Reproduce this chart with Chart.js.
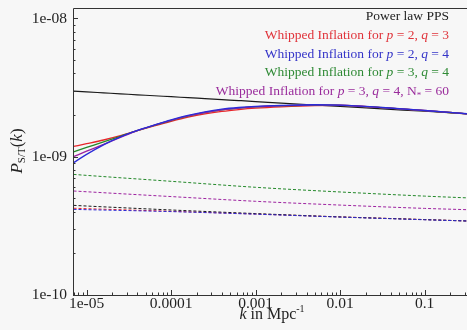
<!DOCTYPE html>
<html><head><meta charset="utf-8">
<script src="https://cdn.jsdelivr.net/npm/chart.js@4.4.0/dist/chart.umd.min.js"></script>
<style>html,body{margin:0;padding:0;background:#f7f7f7;}canvas{display:block;}</style>
</head><body>
<canvas id="c" width="467" height="330"></canvas>
<script>
// ---- data ----
const kSolid = [7e-6,1e-5,1.585e-5,2.512e-5,3.981e-5,6.31e-5,1e-4,1.585e-4,2.512e-4,3.981e-4,6.31e-4,1e-3,2e-3,5e-3,1e-2,3.16e-2,0.1,0.316];
const powerLawPPS = [2.979e-9,2.944e-9,2.897e-9,2.851e-9,2.805e-9,2.761e-9,2.716e-9,2.673e-9,2.630e-9,2.588e-9,2.547e-9,2.506e-9,2.443e-9,2.366e-9,2.312e-9,2.218e-9,2.133e-9,2.046e-9];
const whip23 = [1.186e-9,1.242e-9,1.321e-9,1.419e-9,1.542e-9,1.671e-9,1.803e-9,1.932e-9,2.042e-9,2.128e-9,2.193e-9,2.244e-9,2.296e-9,2.344e-9,2.352e-9,2.265e-9,2.158e-9,2.042e-9];
const whip24 = [0.906e-9,1.040e-9,1.219e-9,1.390e-9,1.549e-9,1.694e-9,1.845e-9,1.991e-9,2.113e-9,2.208e-9,2.270e-9,2.312e-9,2.350e-9,2.377e-9,2.360e-9,2.270e-9,2.160e-9,2.045e-9];
const whip34 = [1.086e-9,1.167e-9,1.279e-9,1.406e-9,1.545e-9,1.687e-9,1.828e-9,1.968e-9,2.084e-9,2.178e-9,2.244e-9,2.291e-9,2.333e-9,2.366e-9,2.355e-9,2.265e-9,2.158e-9,2.042e-9];
const whip34N60 = [1.002e-9,1.096e-9,1.227e-9,1.380e-9,1.545e-9,1.690e-9,1.832e-9,1.972e-9,2.088e-9,2.182e-9,2.248e-9,2.295e-9,2.336e-9,2.368e-9,2.357e-9,2.266e-9,2.159e-9,2.043e-9];

const kTensor = [7e-6,1e-5,1e-4,1e-3,1e-2,0.1,0.316];
const tensorPowerLaw = [4.45e-10,4.40e-10,4.12e-10,3.88e-10,3.67e-10,3.51e-10,3.43e-10];
const tensor23 = [4.24e-10,4.21e-10,4.03e-10,3.85e-10,3.67e-10,3.51e-10,3.43e-10];
const tensor24 = [4.16e-10,4.14e-10,4.01e-10,3.84e-10,3.66e-10,3.50e-10,3.43e-10];
const tensor34 = [7.45e-10,7.33e-10,6.64e-10,6.01e-10,5.56e-10,5.19e-10,5.04e-10];
const tensor34N60 = [5.65e-10,5.58e-10,5.15e-10,4.76e-10,4.47e-10,4.23e-10,4.14e-10];

const xTickValues = [1e-5,1e-4,1e-3,1e-2,1e-1];
const xTickLabels = ['1e-05','0.0001','0.001','0.01','0.1'];
const yTickValues = [1e-10,1e-9,1e-8];
const yTickLabels = ['1e-10','1e-09','1e-08'];

// ---- styling ----
const C = {red:'#e8262b', blue:'#2b2bd8', green:'#23882a', purple:'#9d22a0', black:'#1a1a1a'};
const TXT = {red:'#e0333a', blue:'#3434c8', green:'#2f8a35', purple:'#9a2c9c', black:'#222'};
const SERIF = '"Liberation Serif", "Times New Roman", serif';

function pts(xs, ys){ return xs.map((x,i)=>({x:x, y:ys[i]})); }
function solid(data, color, w){ return {data, borderColor:color, borderWidth:w||1.3, pointRadius:0, fill:false, cubicInterpolationMode:'monotone'}; }
function dashed(data, color){ return {data, borderColor:color, borderWidth:1, borderDash:[3,2], pointRadius:0, fill:false, cubicInterpolationMode:'monotone'}; }

const datasets = [
  solid(pts(kSolid, whip24), C.blue),
  solid(pts(kSolid, whip34N60), C.purple),
  solid(pts(kSolid, whip34), C.green),
  solid(pts(kSolid, whip23), C.red),
  solid(pts(kSolid, powerLawPPS), C.black, 1.2),
  dashed(pts(kTensor, tensor24), C.blue),
  dashed(pts(kTensor, tensorPowerLaw), C.black),
  dashed(pts(kTensor, tensor23), C.red),
  dashed(pts(kTensor, tensor34N60), C.purple),
  dashed(pts(kTensor, tensor34), C.green)
];

function drawRich(ctx, parts, x, y, color){
  for (const p of parts){
    ctx.font = p.f; ctx.fillStyle = color;
    ctx.fillText(p.t, x, y + (p.dy||0));
    x += ctx.measureText(p.t).width;
  }
}
function richWidth(ctx, parts){
  let w = 0;
  for (const p of parts){ ctx.font = p.f; w += ctx.measureText(p.t).width; }
  return w;
}

const LR = '13.5px ' + SERIF, LI = 'italic 13.5px ' + SERIF, LS = '9px ' + SERIF;
const legendLines = [
  {c:TXT.black, parts:[{t:'Power law PPS', f:LR}]},
  {c:TXT.red, parts:[{t:'Whipped Inflation for ', f:LR},{t:'p',f:LI},{t:' = 2, ',f:LR},{t:'q',f:LI},{t:' = 3',f:LR}]},
  {c:TXT.blue, parts:[{t:'Whipped Inflation for ', f:LR},{t:'p',f:LI},{t:' = 2, ',f:LR},{t:'q',f:LI},{t:' = 4',f:LR}]},
  {c:TXT.green, parts:[{t:'Whipped Inflation for ', f:LR},{t:'p',f:LI},{t:' = 3, ',f:LR},{t:'q',f:LI},{t:' = 4',f:LR}]},
  {c:TXT.purple, parts:[{t:'Whipped Inflation for ', f:LR},{t:'p',f:LI},{t:' = 3, ',f:LR},{t:'q',f:LI},{t:' = 4, N',f:LR},{t:'*',f:LS,dy:3},{t:' = 60',f:LR}]}
];

const framePlugin = {
  id:'frame',
  beforeDraw(chart){
    const ctx = chart.ctx; ctx.save(); ctx.fillStyle = '#f7f7f7';
    ctx.fillRect(0,0,chart.width,chart.height); ctx.restore();
  },
  afterDraw(chart){
    const ctx = chart.ctx, a = chart.chartArea, xs = chart.scales.x, ys = chart.scales.y;
    ctx.save();
    ctx.strokeStyle = '#333'; ctx.lineWidth = 1;
    ctx.beginPath();
    ctx.moveTo(a.right, Math.round(a.top)+0.5); ctx.lineTo(Math.round(a.left)+0.5, Math.round(a.top)+0.5);
    ctx.lineTo(Math.round(a.left)+0.5, Math.round(a.bottom)+0.5); ctx.lineTo(a.right, Math.round(a.bottom)+0.5);
    ctx.stroke();
    // inward ticks
    ctx.beginPath();
    for (let e=-6; e<=0; e++){
      for (let m=1; m<=9; m++){
        const v = m*Math.pow(10,e);
        if (v >= xs.min && v <= xs.max){
          const px = Math.round(xs.getPixelForValue(v))+0.5, len = (m===1)?5:2.5;
          ctx.moveTo(px, a.bottom); ctx.lineTo(px, a.bottom-len);
        }
      }
    }
    for (let e=-10; e<=-8; e++){
      for (let m=1; m<=9; m++){
        const v = m*Math.pow(10,e);
        if (v >= ys.min && v <= ys.max){
          const py = Math.round(ys.getPixelForValue(v))+0.5, len = (m===1)?5:2.5;
          ctx.moveTo(a.left, py); ctx.lineTo(a.left+len, py);
        }
      }
    }
    ctx.stroke();

    // legend
    ctx.textBaseline = 'alphabetic';
    const right = 449, base0 = 20, step = 18.75;
    legendLines.forEach((ln,i)=>{
      const w = richWidth(ctx, ln.parts);
      drawRich(ctx, ln.parts, right - w, base0 + i*step, ln.c);
    });

    // x title
    const xt = [{t:'k',f:'italic 16px '+SERIF},{t:' in Mpc',f:'16px '+SERIF},{t:'-1',f:'10px '+SERIF,dy:-7}];
    const xw = richWidth(ctx, xt);
    drawRich(ctx, xt, 272 - xw/2, 319, '#222');

    // y title
    ctx.translate(22, 151); ctx.rotate(-Math.PI/2);
    const yt = [{t:'P',f:'italic 17px '+SERIF},{t:'S/T',f:'11px '+SERIF,dy:3},{t:'(',f:'17px '+SERIF},{t:'k',f:'italic 17px '+SERIF},{t:')',f:'17px '+SERIF}];
    const yw = richWidth(ctx, yt);
    drawRich(ctx, yt, -yw/2, 0, '#222');
    ctx.restore();
  }
};

new Chart(document.getElementById('c'), {
  type:'line',
  data:{datasets},
  options:{
    responsive:false, animation:false, devicePixelRatio:1,
    layout:{padding:{top:7.5,right:0,left:0,bottom:0}},
    plugins:{legend:{display:false}, tooltip:{enabled:false}},
    scales:{
      x:{type:'logarithmic', min:6.9e-6, max:0.317,
        grid:{display:false, drawTicks:false}, border:{display:false},
        afterBuildTicks:s=>{ s.ticks = xTickValues.map(v=>({value:v})); },
        afterFit:s=>{ s.height = 35; s.paddingLeft = 0; s.paddingRight = 0; },
        ticks:{autoSkip:false, maxRotation:0, padding:0, color:'#222', font:{family:SERIF, size:15.5},
          callback:(v,i)=>xTickLabels[i]}},
      y:{type:'logarithmic', min:1e-10, max:1.2e-8,
        grid:{display:false, drawTicks:false}, border:{display:false},
        afterBuildTicks:s=>{ s.ticks = yTickValues.map(v=>({value:v})); },
        afterFit:s=>{ s.width = 73; s.paddingTop = 0; s.paddingBottom = 0; },
        ticks:{autoSkip:false, padding:6, color:'#222', font:{family:SERIF, size:15.5},
          callback:(v,i)=>yTickLabels[i]}}
    }
  },
  plugins:[framePlugin]
});
</script>
</body></html>
